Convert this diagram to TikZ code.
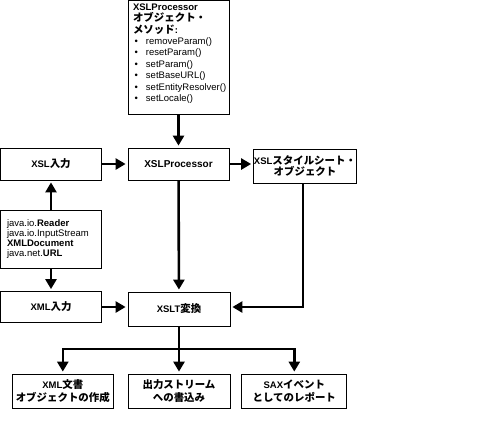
\documentclass[tikz,border=0pt]{standalone}
\usepackage{fontspec}
\setmainfont{Liberation Sans}
\newfontfamily\jp{Noto Sans CJK JP}[Scale=1.1]
\usetikzlibrary{arrows.meta, positioning}

\newcommand\blt{\makebox[13pt][l]{\,•}}

\begin{document}
\begin{tikzpicture}[x=1pt, y=-1pt,
        box/.style={draw, line width=0.8pt, minimum width=101pt, minimum height=32pt,
            inner sep=2pt, align=center, font=\fontsize{9.5}{13}\selectfont\bfseries},
        flow/.style={line width=2.6pt, shorten >=2pt, -{Triangle[length=10pt,width=11pt]}},
        link/.style={line width=2.6pt}]
        \useasboundingbox (0,0) rectangle (496,440);

        \node[box, minimum height=114pt, text width=91pt, align=left, inner xsep=5pt,
            font=\fontsize{9.5}{11.4}\selectfont\bfseries] (meth) at (178.5,57)
            {XSLProcessor\\ {\jp オブジェクト・}\\ {\jp メソッド}:\\
             \mdseries\blt removeParam()\\ \blt resetParam()\\ \blt setParam()\\
             \blt setBaseURL()\\ \blt setEntityResolver()\\ \blt setLocale()\rule[-9pt]{0pt}{9pt}};

        \node[box] (xin) at (51,164) {XSL{\jp 入力}};
        \node[box, font=\fontsize{10}{13}\selectfont\bfseries] (proc) at (178.5,164) {XSLProcessor};
        \node[box, minimum width=103pt, minimum height=34pt, inner xsep=0pt,
            font=\fontsize{9.5}{10.5}\selectfont\bfseries] (sheet) at (305,166)
            {XSL{\jp スタイルシート・}\\ {\jp オブジェクト}};
        \node[box, minimum height=58pt, text width=88pt, align=left, inner xsep=6.5pt,
            font=\fontsize{9.5}{10}\selectfont] (java) at (51,239)
            {java.io.\textbf{Reader}\\ java.io.InputStream\\ \textbf{XMLDocument}\\ java.net.\textbf{URL}};
        \node[box, minimum height=31pt] (xmlin) at (51,307) {XML{\jp 入力}};
        \node[box, minimum width=102pt, minimum height=34pt] (xslt) at (179,309) {XSLT{\jp 変換}};

        \node[box, minimum height=34pt, inner xsep=0pt] (dom) at (62.8,391)
            {XML{\jp 文書}\\ {\jp オブジェクトの作成}};
        \node[box, minimum width=102pt, minimum height=34pt] (strm) at (179,391)
            {{\jp 出力ストリーム}\\ {\jp への書込み}};
        \node[box, minimum width=105pt, minimum height=34pt] (sax) at (294.3,391)
            {SAX{\jp イベント}\\ {\jp としてのレポート}};

        \coordinate (br) at (179,349);

        \draw[flow] (meth) -- (proc);
        \draw[flow] (xin) -- (proc);
        \draw[flow] (proc.east) -- (proc.east -| sheet.west);
        \draw[flow] (java) -- (xin);
        \draw[flow] (java) -- (xmlin);
        \draw[flow] (xmlin) -- (xmlin -| xslt.west);
        \draw[flow] (proc) -- (xslt);
        \draw[flow] ([xshift=-2pt]sheet.south) |- ([yshift=2pt]xslt.east);
        \draw[link] (xslt) -- (br);
        \draw[flow] (br) -| (dom);
        \draw[flow] (br) -- (strm);
        \draw[flow] (br) -| (sax);
\end{tikzpicture}
\end{document}
